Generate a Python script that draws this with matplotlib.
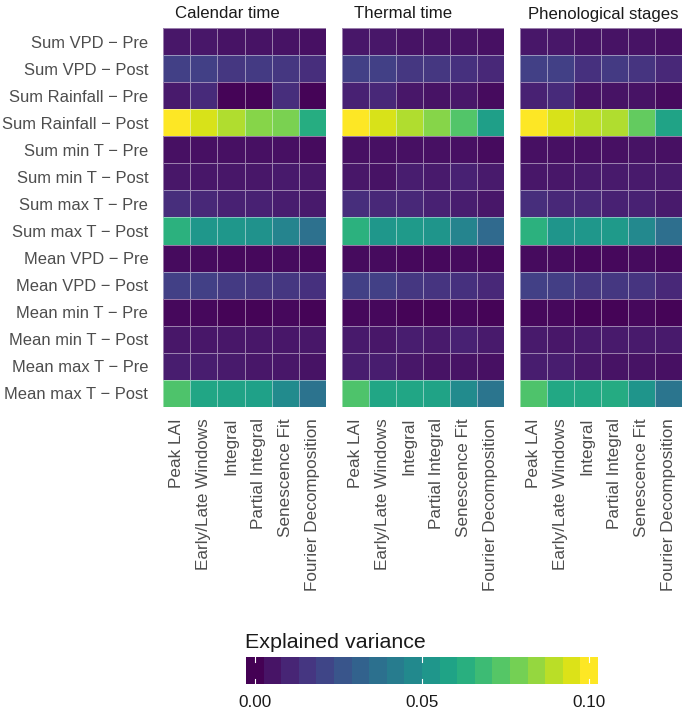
import numpy as np
import matplotlib
matplotlib.use("Agg")
import matplotlib.pyplot as plt
from matplotlib.colors import Normalize

plt.rcParams['font.family'] = ['Liberation Sans', 'DejaVu Sans']

variables = ["Sum VPD − Pre", "Sum VPD − Post", "Sum Rainfall − Pre", "Sum Rainfall − Post",
             "Sum min T − Pre", "Sum min T − Post", "Sum max T − Pre", "Sum max T − Post",
             "Mean VPD − Pre", "Mean VPD − Post", "Mean min T − Pre", "Mean min T − Post",
             "Mean max T − Pre", "Mean max T − Post"]
metrics = ["Peak LAI", "Early/Late Windows", "Integral", "Partial Integral",
           "Senescence Fit", "Fourier Decomposition"]
panels = ["Calendar time", "Thermal time", "Phenological stages"]

calendar = [
    [0.006, 0.006, 0.005, 0.005, 0.005, 0.004],
    [0.019, 0.019, 0.016, 0.017, 0.016, 0.013],
    [0.007, 0.012, 0.001, 0.001, 0.013, 0.001],
    [0.100, 0.094, 0.088, 0.082, 0.080, 0.062],
    [0.004, 0.004, 0.004, 0.004, 0.004, 0.003],
    [0.006, 0.006, 0.006, 0.006, 0.007, 0.006],
    [0.013, 0.011, 0.009, 0.009, 0.008, 0.007],
    [0.064, 0.053, 0.053, 0.051, 0.045, 0.037],
    [0.003, 0.003, 0.002, 0.002, 0.003, 0.002],
    [0.019, 0.019, 0.017, 0.016, 0.016, 0.014],
    [0.002, 0.002, 0.001, 0.001, 0.002, 0.001],
    [0.006, 0.006, 0.006, 0.006, 0.006, 0.006],
    [0.008, 0.008, 0.007, 0.006, 0.006, 0.005],
    [0.072, 0.059, 0.058, 0.057, 0.048, 0.038],
]
thermal = [
    [0.006, 0.006, 0.005, 0.005, 0.005, 0.004],
    [0.019, 0.019, 0.016, 0.016, 0.014, 0.011],
    [0.009, 0.011, 0.006, 0.005, 0.006, 0.003],
    [0.100, 0.094, 0.088, 0.082, 0.073, 0.056],
    [0.004, 0.004, 0.004, 0.004, 0.004, 0.003],
    [0.006, 0.005, 0.008, 0.007, 0.009, 0.007],
    [0.013, 0.011, 0.011, 0.009, 0.008, 0.006],
    [0.064, 0.053, 0.054, 0.052, 0.045, 0.034],
    [0.003, 0.003, 0.002, 0.002, 0.003, 0.002],
    [0.019, 0.019, 0.016, 0.015, 0.014, 0.011],
    [0.002, 0.002, 0.001, 0.001, 0.002, 0.001],
    [0.007, 0.006, 0.008, 0.007, 0.009, 0.007],
    [0.008, 0.008, 0.006, 0.005, 0.005, 0.004],
    [0.072, 0.059, 0.059, 0.058, 0.048, 0.039],
]
phenological = [
    [0.006, 0.006, 0.005, 0.005, 0.005, 0.004],
    [0.019, 0.019, 0.014, 0.017, 0.015, 0.011],
    [0.009, 0.012, 0.005, 0.005, 0.005, 0.003],
    [0.100, 0.094, 0.090, 0.088, 0.076, 0.058],
    [0.004, 0.004, 0.004, 0.004, 0.005, 0.004],
    [0.006, 0.006, 0.007, 0.007, 0.007, 0.007],
    [0.013, 0.011, 0.011, 0.009, 0.009, 0.007],
    [0.064, 0.052, 0.053, 0.054, 0.047, 0.036],
    [0.003, 0.003, 0.002, 0.002, 0.003, 0.002],
    [0.019, 0.018, 0.016, 0.016, 0.015, 0.011],
    [0.002, 0.002, 0.001, 0.001, 0.002, 0.001],
    [0.007, 0.006, 0.007, 0.007, 0.007, 0.007],
    [0.008, 0.008, 0.006, 0.005, 0.005, 0.004],
    [0.072, 0.060, 0.060, 0.061, 0.052, 0.039],
]
cbar_ticks = [0.00, 0.05, 0.10]
cbar_labels = ["0.00", "0.05", "0.10"]

W, H = 685, 707
fig = plt.figure(figsize=(W / 100, H / 100), dpi=100)
fig.patch.set_facecolor("white")

def ax_px(x0, y0, x1, y1):
    return fig.add_axes([x0 / W, 1 - y1 / H, (x1 - x0) / W, (y1 - y0) / H])

norm = Normalize(0.0, 0.100)
cmap = plt.get_cmap("viridis")
panel_x = [(163.3, 325.7), (341.7, 504.0), (520.0, 681.7)]
title_off = [12, 12, 8]
top, bottom = 28.3, 406.7

for i, (name, data) in enumerate(zip(panels, [calendar, thermal, phenological])):
    x0, x1 = panel_x[i]
    ax = ax_px(x0, top, x1, bottom)
    arr = np.array(data)
    ax.pcolormesh(np.arange(len(metrics) + 1), np.arange(len(variables) + 1), arr,
                  cmap=cmap, norm=norm, edgecolors=(1, 1, 1, 0.45), linewidth=0.6)
    ax.set_xlim(0, len(metrics))
    ax.set_ylim(len(variables), 0)
    for s in ax.spines.values():
        s.set_visible(False)
    ax.set_xticks(np.arange(len(metrics)) + 0.5)
    ax.set_xticklabels(metrics, rotation=90, ha="center", va="top",
                       fontsize=12.3, color="#4D4D4D")
    ax.tick_params(axis="both", length=0)
    ax.tick_params(axis="x", pad=8.2)
    if i == 0:
        ax.set_yticks(np.arange(len(variables)) + 0.5)
        ax.set_yticklabels(variables, fontsize=11.9, color="#4D4D4D")
        ax.tick_params(axis="y", pad=10.8)
    else:
        ax.set_yticks([])
    fig.text((x0 + title_off[i]) / W, 1 - 18.5 / H, name, fontsize=12.1, color="#1A1A1A",
             ha="left", va="baseline")

# colour bar (binned like ggplot's colourbar, 20 bins)
nbin = 20
vmin, vmax = norm.vmin, norm.vmax
d = (vmax - vmin) / (nbin - 1)
cax = ax_px(246, 656.7, 598, 684)
cols = cmap(np.linspace(0, 1, nbin))[None, :, :]
cax.imshow(cols, extent=[vmin - d / 2, vmax + d / 2, 0, 1], aspect="auto",
           interpolation="nearest")
cax.set_xlim(vmin - d / 2, vmax + d / 2)
cax.set_ylim(0, 1)
for s in cax.spines.values():
    s.set_visible(False)
cax.set_yticks([])
cax.set_xticks([])
for t, lab in zip(cbar_ticks, cbar_labels):
    cax.plot([t, t], [0, 0.2], color="white", lw=0.8)
    cax.plot([t, t], [0.8, 1], color="white", lw=0.8)
    cax.text(t, -0.4, lab, transform=cax.get_xaxis_transform(), fontsize=12.3,
             color="#1A1A1A", ha="center", va="top")
fig.text(245 / W, 1 - 648 / H, "Explained variance", fontsize=15.4, color="#1A1A1A",
         ha="left", va="baseline")

fig.savefig("out.png", dpi=100)
